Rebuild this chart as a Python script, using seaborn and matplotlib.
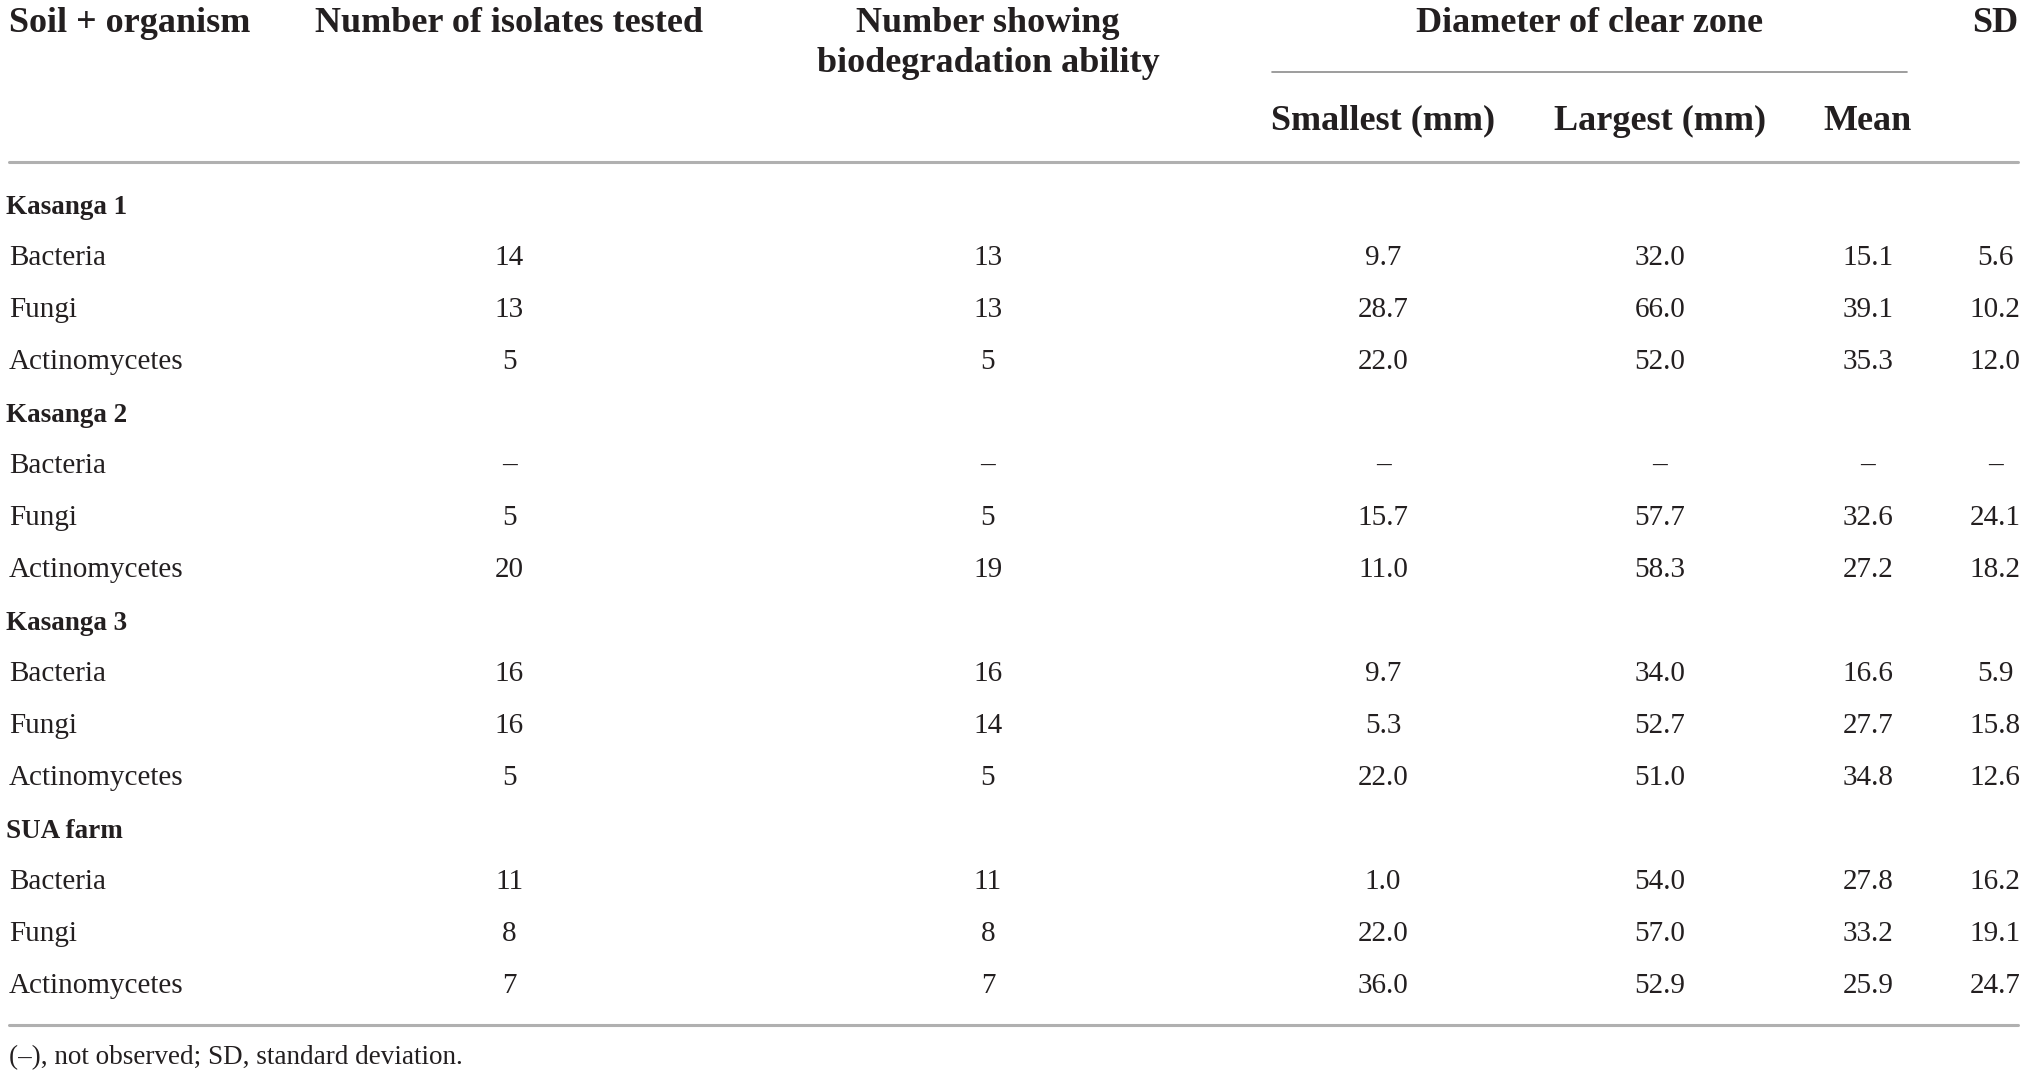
import seaborn as sns
import matplotlib.pyplot as plt
import pandas as pd

# table content
groups = ['Kasanga 1', 'Kasanga 2', 'Kasanga 3', 'SUA farm']
organisms = ['Bacteria', 'Fungi', 'Actinomycetes']
isolates_tested = ['14', '13', '5', '–', '5', '20', '16', '16', '5', '11', '8', '7']
showing_ability = ['13', '13', '5', '–', '5', '19', '16', '14', '5', '11', '8', '7']
smallest_mm = ['9.7', '28.7', '22.0', '–', '15.7', '11.0', '9.7', '5.3', '22.0', '1.0', '22.0', '36.0']
largest_mm = ['32.0', '66.0', '52.0', '–', '57.7', '58.3', '34.0', '52.7', '51.0', '54.0', '57.0', '52.9']
mean_mm = ['15.1', '39.1', '35.3', '–', '32.6', '27.2', '16.6', '27.7', '34.8', '27.8', '33.2', '25.9']
sd_mm = ['5.6', '10.2', '12.0', '–', '24.1', '18.2', '5.9', '15.8', '12.6', '16.2', '19.1', '24.7']
footnote = '(–), not observed; SD, standard deviation.'

df = pd.DataFrame({
    'soil': [g for g in groups for _ in organisms],
    'organism': organisms * len(groups),
    'tested': isolates_tested,
    'showing': showing_ability,
    'smallest': smallest_mm,
    'largest': largest_mm,
    'mean': mean_mm,
    'sd': sd_mm,
})

sns.set_theme(style='white')
plt.rcParams['font.family'] = ['Liberation Serif', 'DejaVu Serif']

W, H = 2022, 1076
fig = plt.figure(figsize=(W / 100, H / 100), dpi=100)
ax = fig.add_axes([0, 0, 1, 1])
ax.set_xlim(0, W)
ax.set_ylim(H, 0)
ax.axis('off')

ink = '#231f20'
rule = '#b0b0b0'
hsize = 26
bsize = 21
gsize = 19.5

col_x = {'tested': 509, 'showing': 988, 'smallest': 1383, 'largest': 1660, 'mean': 1868, 'sd': 1995}

# headers
hdr = dict(va='center', fontsize=hsize, fontweight='bold', color=ink)
ax.text(9, 24, 'Soil + organism', ha='left', **hdr)
ax.text(col_x['tested'], 24, 'Number of isolates tested', ha='center', **hdr)
ax.text(col_x['showing'], 24, 'Number showing', ha='center', **hdr)
ax.text(col_x['showing'], 63, 'biodegradation ability', ha='center', **hdr)
ax.text(1590, 24, 'Diameter of clear zone', ha='center', **hdr)
ax.text(col_x['sd'], 24, 'SD', ha='center', **hdr)
ax.plot([1272, 1907], [72, 72], color='#8c8c8c', lw=1.2)
for key, lab in [('smallest', 'Smallest (mm)'), ('largest', 'Largest (mm)'), ('mean', 'Mean')]:
    ax.text(col_x[key], 121, lab, ha='center', **hdr)

ax.plot([9, 2018], [162, 162], color=rule, lw=2.2)

# body rows
y = 206
step = 52
for g in groups:
    ax.text(6, y + 2, g, ha='left', va='center', fontsize=gsize, fontweight='bold', color=ink)
    y += step
    for _, r in df[df['soil'] == g].iterrows():
        ax.text(9, y, r['organism'], ha='left', va='center', fontsize=bsize, color=ink)
        for key in col_x:
            ax.text(col_x[key], y, r[key], ha='center', va='center', fontsize=bsize, color=ink)
        y += step

ax.plot([9, 2018], [1025, 1025], color=rule, lw=2.2)
ax.text(9, 1058, footnote, ha='left', va='center', fontsize=19.5, color=ink)

fig.savefig('out.png', dpi=100)
plt.close(fig)
